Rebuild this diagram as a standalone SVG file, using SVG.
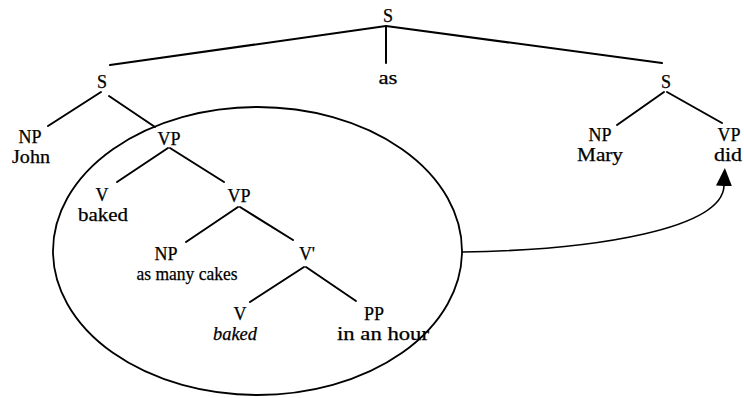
<svg xmlns="http://www.w3.org/2000/svg" width="744" height="398" viewBox="0 0 744 398">
<style>
text{font-family:"Liberation Serif","Times New Roman",serif;font-size:18px;fill:#000;stroke:#000;stroke-width:0.25;text-anchor:middle}
.it{font-style:italic}
.edge{stroke:#000;stroke-width:2;fill:none;stroke-linecap:round}
.ell{stroke:#000;stroke-width:1.8;fill:none}
.arrow{stroke:#000;stroke-width:1.6;fill:none}
</style>
<defs>
<marker id="ah" markerUnits="userSpaceOnUse" markerWidth="20" markerHeight="16" refX="0" refY="8" orient="auto">
<path d="M0,0 L18,8 L0,16 z" fill="#000"/>
</marker>
</defs>
<rect width="744" height="398" fill="#fff"/>
<g id="connectors">
<line class="edge" x1="386" y1="26" x2="110" y2="65"/>
<line class="edge" x1="386" y1="26" x2="662" y2="63"/>
<line class="edge" x1="386" y1="26" x2="386" y2="63"/>
<line class="edge" x1="101" y1="92" x2="48" y2="126"/>
<line class="edge" x1="109" y1="96" x2="155" y2="127"/>
<line class="edge" x1="168" y1="148" x2="117" y2="182"/>
<line class="edge" x1="170" y1="148" x2="224" y2="182"/>
<line class="edge" x1="238" y1="207" x2="186" y2="242"/>
<line class="edge" x1="240" y1="207" x2="293" y2="240"/>
<line class="edge" x1="304" y1="267" x2="250" y2="302"/>
<line class="edge" x1="306" y1="267" x2="356" y2="301"/>
<line class="edge" x1="664" y1="92" x2="617" y2="125"/>
<line class="edge" x1="667" y1="92" x2="722" y2="123"/>
<path class="arrow" d="M462,252 C600,250 722,228 724,186" marker-end="url(#ah)"/>
</g>
<g id="ellipse"><ellipse class="ell" cx="257.5" cy="251" rx="204.5" ry="144"/></g>
<g id="s-top"><text x="388" y="22">S</text></g>
<g id="as"><text x="388" y="84" textLength="19" lengthAdjust="spacingAndGlyphs">as</text></g>
<g id="s-left"><text x="102" y="88">S</text></g>
<g id="np-john"><text x="30" y="143">NP</text><text x="31" y="163" textLength="38" lengthAdjust="spacingAndGlyphs">John</text></g>
<g id="vp1"><text x="169" y="145">VP</text></g>
<g id="v-baked"><text x="102" y="201">V</text><text x="103" y="221" textLength="50" lengthAdjust="spacingAndGlyphs">baked</text></g>
<g id="vp2"><text x="239" y="202">VP</text></g>
<g id="np-cakes"><text x="166" y="260">NP</text><text x="187" y="280" textLength="101" lengthAdjust="spacingAndGlyphs">as many cakes</text></g>
<g id="vbar"><text x="307" y="260">V'</text></g>
<g id="v-baked2"><text x="240" y="320">V</text><text class="it" x="235" y="340" textLength="44" lengthAdjust="spacingAndGlyphs">baked</text></g>
<g id="pp"><text x="374" y="320">PP</text><text x="383" y="340" textLength="92" lengthAdjust="spacingAndGlyphs">in an hour</text></g>
<g id="s-right"><text x="666" y="88">S</text></g>
<g id="np-mary"><text x="600" y="141">NP</text><text x="600" y="161" textLength="46" lengthAdjust="spacingAndGlyphs">Mary</text></g>
<g id="vp-did"><text x="729" y="141">VP</text><text x="728" y="161" textLength="28" lengthAdjust="spacingAndGlyphs">did</text></g>
</svg>
